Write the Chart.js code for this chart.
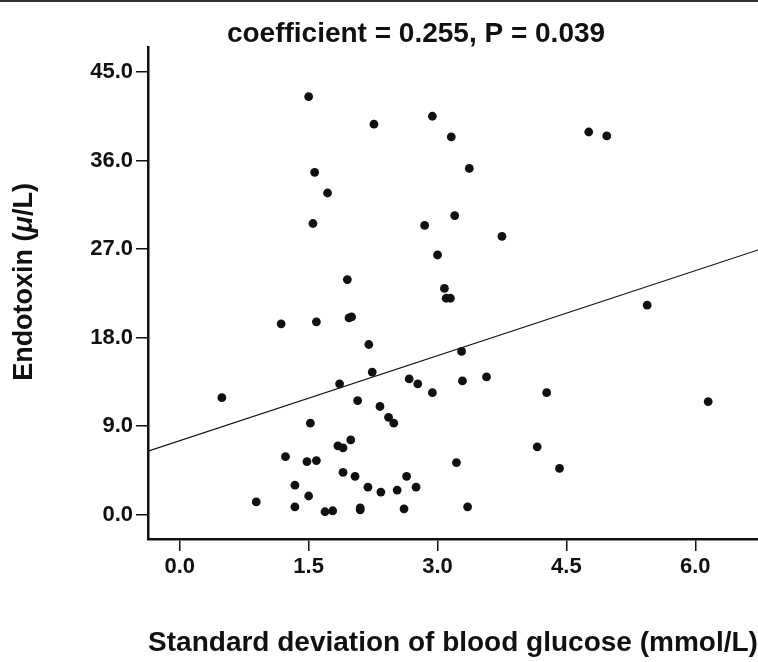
<!DOCTYPE html>
<html>
<head>
<meta charset="utf-8">
<script src="https://cdn.jsdelivr.net/npm/chart.js@4.4.1/dist/chart.umd.min.js"></script>
<style>
    html, body { margin: 0; padding: 0; background: #fff; }
    #wrap { position: relative; width: 758px; height: 662px; }
    #topRule { position: absolute; left: 0; top: 0; width: 758px; height: 2px; background: #333; }
</style>
</head>
<body>
<div id="wrap">
    <canvas id="scatterChart" width="758" height="662"></canvas>
    <div id="topRule"></div>
</div>
<script>
// values
const sdGlucose = [
    0.49, 0.89, 1.18, 1.23, 1.34, 1.34, 1.48, 1.50, 1.50, 1.52,
    1.55, 1.57, 1.59, 1.59, 1.69, 1.72, 1.78, 1.84, 1.86, 1.90,
    1.90, 1.95, 1.97, 2.00, 1.99, 2.04, 2.07, 2.10, 2.10, 2.19,
    2.20, 2.24, 2.26, 2.33, 2.34, 2.43, 2.49, 2.53, 2.61, 2.64,
    2.67, 2.75, 2.77, 2.85, 2.94, 2.94, 3.00, 3.08, 3.10, 3.15,
    3.16, 3.20, 3.22, 3.28, 3.29, 3.35, 3.37, 3.57, 3.75, 4.16,
    4.27, 4.42, 4.76, 4.97, 5.44, 6.15
];
const endotoxin = [
    11.9, 1.3, 19.4, 5.9, 3.0, 0.8, 5.4, 1.9, 42.5, 9.3,
    29.6, 34.8, 19.6, 5.5, 0.3, 32.7, 0.4, 7.0, 13.3, 6.8,
    4.3, 23.9, 20.0, 20.1, 7.6, 3.9, 11.6, 0.5, 0.7, 2.8,
    17.3, 14.5, 39.7, 11.0, 2.3, 9.9, 9.3, 2.5, 0.6, 3.9,
    13.8, 2.8, 13.3, 29.4, 40.5, 12.4, 26.4, 23.0, 22.0, 22.0,
    38.4, 30.4, 5.3, 16.6, 13.6, 0.8, 35.2, 14.0, 28.3, 6.9,
    12.4, 4.7, 38.9, 38.5, 21.3, 11.5
];
const xTicks = [0, 1.5, 3.0, 4.5, 6.0];
const yTicks = [0, 9, 18, 27, 36, 45];
const xRange = [-0.37, 6.73];
const yRange = [-2.47, 47.54];
// fitted line as drawn in the figure
const fitIntercept = 7.53;
const fitSlope = 2.88;

const titleText = 'coefficient = 0.255, P = 0.039';
const xTitle = 'Standard deviation of blood glucose (mmol/L)';
const yTitleParts = [
    { text: 'Endotoxin (', italic: false },
    { text: 'μ', italic: true },
    { text: '/L)', italic: false }
];

const ink = '#111';
const fontFamily = '"Liberation Sans", Arial, Helvetica, sans-serif';

const points = sdGlucose.map((x, i) => ({ x: x, y: endotoxin[i] }));
const fitLine = xRange.map(x => ({ x: x, y: fitIntercept + fitSlope * x }));

// heading and y title (mixed italic) drawn by hand
const extraText = {
    id: 'extraText',
    afterDraw(chart) {
        const ctx = chart.ctx;
        ctx.save();
        ctx.fillStyle = ink;
        ctx.font = `bold 28px ${fontFamily}`;
        ctx.textAlign = 'center';
        ctx.textBaseline = 'alphabetic';
        ctx.fillText(titleText, 416, 42);

        ctx.translate(25, 282);
        ctx.rotate(-Math.PI / 2);
        ctx.textBaseline = 'middle';
        ctx.textAlign = 'left';
        const fonts = yTitleParts.map(p => `${p.italic ? 'italic ' : ''}bold 27px ${fontFamily}`);
        let total = 0;
        const widths = yTitleParts.map((p, i) => {
            ctx.font = fonts[i];
            const w = ctx.measureText(p.text).width;
            total += w;
            return w;
        });
        let x = -total / 2;
        yTitleParts.forEach((p, i) => {
            ctx.font = fonts[i];
            ctx.fillText(p.text, x, 0);
            x += widths[i];
        });
        ctx.restore();
    }
};

const tickFont = { family: fontFamily, size: 22, weight: 'bold' };

new Chart(document.getElementById('scatterChart'), {
    type: 'scatter',
    data: {
        datasets: [{
            data: points,
            backgroundColor: ink,
            borderWidth: 0,
            pointRadius: 4.4,
            order: 0
        }, {
            type: 'line',
            data: fitLine,
            borderColor: ink,
            borderWidth: 1.1,
            pointRadius: 0,
            fill: false,
            order: 1
        }]
    },
    options: {
        responsive: false,
        animation: false,
        layout: { autoPadding: false, padding: { top: 47, right: 0, bottom: 0, left: 0 } },
        plugins: {
            legend: { display: false },
            tooltip: { enabled: false }
        },
        scales: {
            x: {
                type: 'linear',
                min: xRange[0],
                max: xRange[1],
                afterBuildTicks: s => { s.ticks = xTicks.map(v => ({ value: v })); },
                afterFit: s => {
                    s.height = 123;
                    s.paddingLeft = 0;
                    s.paddingRight = 0;
                },
                border: { display: true, color: ink, width: 2.5 },
                grid: { drawOnChartArea: false, drawTicks: true, tickLength: 12, color: ink, lineWidth: 1.5 },
                ticks: {
                    color: ink,
                    font: tickFont,
                    padding: 3,
                    maxRotation: 0,
                    callback: v => v.toFixed(1)
                },
                title: {
                    display: true,
                    text: xTitle,
                    color: ink,
                    font: { family: fontFamily, size: 28, weight: 'bold' },
                    padding: { top: 0, bottom: 2 }
                }
            },
            y: {
                type: 'linear',
                min: yRange[0],
                max: yRange[1],
                afterBuildTicks: s => { s.ticks = yTicks.map(v => ({ value: v })); },
                afterFit: s => {
                    s.width = 148;
                    s.paddingTop = 0;
                    s.paddingBottom = 0;
                },
                border: { display: true, color: ink, width: 2.5 },
                grid: { drawOnChartArea: false, drawTicks: true, tickLength: 12, color: ink, lineWidth: 1.5 },
                ticks: {
                    color: ink,
                    font: tickFont,
                    padding: 3,
                    callback: v => v.toFixed(1)
                }
            }
        }
    },
    plugins: [extraText]
});
</script>
</body>
</html>
